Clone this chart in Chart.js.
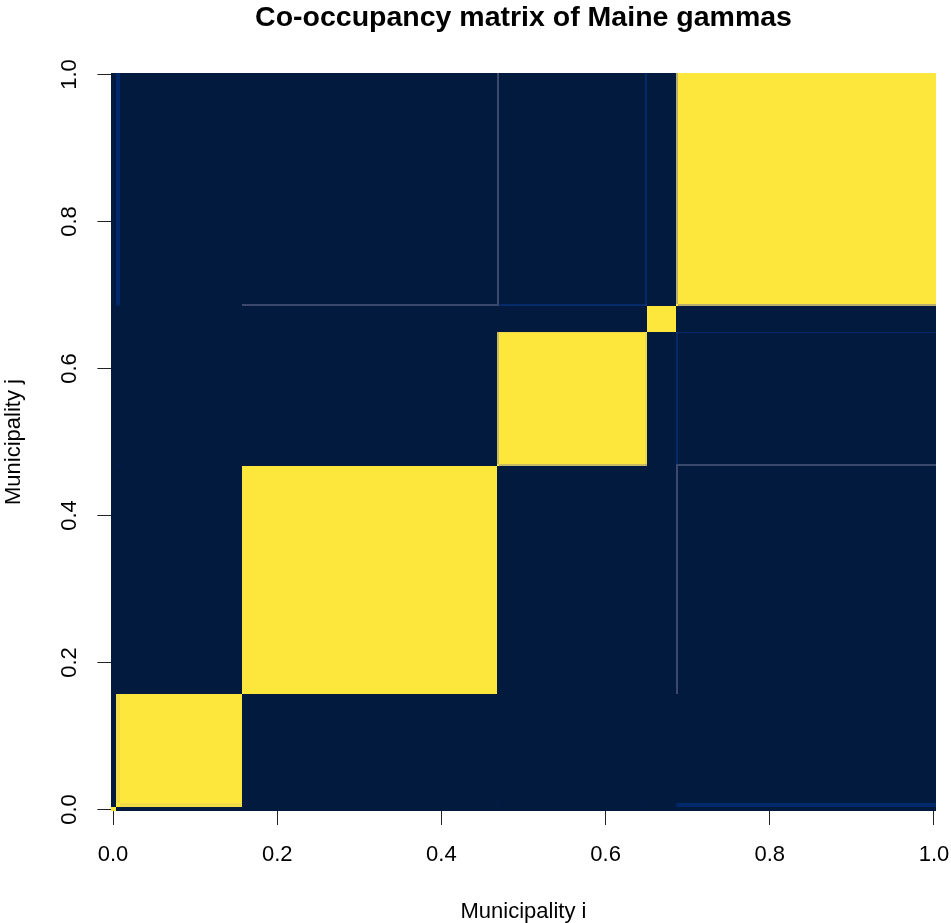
<!DOCTYPE html>
<html>
<head>
<meta charset="utf-8">
<script src="https://cdn.jsdelivr.net/npm/chart.js@4/dist/chart.umd.min.js"></script>
<style>
  html, body { margin: 0; padding: 0; background: #ffffff; }
  canvas { display: block; }
</style>
</head>
<body>
<canvas id="coocc" width="951" height="923"></canvas>
<script>
// Ordered municipality axis (0..1): boundaries of the posterior clusters
// cluster 0: single municipality, 1..5: the five main groups
const clusterBounds = [0, 0.003, 0.157, 0.4672, 0.6503, 0.6855, 1.0];

// Municipalities that spend part of the draws in another cluster
const splitFrom  = [0.003, 0.4672, 0.6480, 0.6855, 0.6855];
const splitTo    = [0.009, 0.4697, 0.6503, 0.6878, 0.6878];
const splitOther = [5, 5, 5, 2, 3];
const splitShare = [0.05, 0.20, 0.06, 0.20, 0.06];

// Axis ticks
const tickValues = [0, 0.2, 0.4, 0.6, 0.8, 1.0];
const tickLabels = ['0.0', '0.2', '0.4', '0.6', '0.8', '1.0'];

// Colour ramp (dark navy -> yellow)
const rampStops  = [0, 0.05, 0.2, 0.5, 0.75, 1];
const rampColors = ['#011a3e', '#00286a', '#3b4a6c', '#7c7b78', '#bcaf6f', '#fde73c'];

function hexRgb(h) {
  return [parseInt(h.slice(1, 3), 16), parseInt(h.slice(3, 5), 16), parseInt(h.slice(5, 7), 16)];
}
function rampColor(v) {
  for (let k = 0; k < rampStops.length - 1; k++) {
    if (v <= rampStops[k + 1]) {
      const t = (v - rampStops[k]) / (rampStops[k + 1] - rampStops[k]);
      const a = hexRgb(rampColors[k]), b = hexRgb(rampColors[k + 1]);
      const c = a.map((x, i) => Math.round(x + (b[i] - x) * t));
      return 'rgb(' + c.join(',') + ')';
    }
  }
  return rampColors[rampColors.length - 1];
}

// Cut the axis into runs of municipalities with identical membership
const nClusters = clusterBounds.length - 1;
function clusterOf(v) {
  for (let k = 0; k < nClusters; k++) {
    if (v >= clusterBounds[k] && v < clusterBounds[k + 1]) return k;
  }
  return nClusters - 1;
}
const cuts = [...new Set([...clusterBounds, ...splitFrom, ...splitTo])].sort((a, b) => a - b);
const segments = [];
for (let i = 0; i < cuts.length - 1; i++) {
  const a = cuts[i], b = cuts[i + 1], mid = (a + b) / 2;
  const p = new Array(nClusters).fill(0);
  let rest = 1;
  splitFrom.forEach((f, s) => {
    if (mid > f && mid < splitTo[s]) {
      p[splitOther[s]] += splitShare[s];
      rest -= splitShare[s];
    }
  });
  p[clusterOf(mid)] += rest;
  segments.push({ a, b, p });
}

// Co-occupancy cells: probability that municipality i and j share a cluster
const cells = [];
segments.forEach((si, i) => {
  segments.forEach((sj, j) => {
    const v = i === j ? 1 : si.p.reduce((acc, pk, k) => acc + pk * sj.p[k], 0);
    cells.push({
      x: (si.a + si.b) / 2, y: (sj.a + sj.b) / 2,
      x0: si.a, x1: si.b, y0: sj.a, y1: sj.b, v,
      first: [i === 0, j === 0], last: [i === segments.length - 1, j === segments.length - 1]
    });
  });
});

const FONT = '"Liberation Sans", Arial, Helvetica, sans-serif';
Chart.defaults.font.family = FONT;
Chart.defaults.color = '#000';

// Paints each cell as a rectangle positioned by the x/y scales
const matrixPlugin = {
  id: 'coOccupancyMatrix',
  beforeDatasetsDraw(chart) {
    const { ctx } = chart;
    const xs = chart.scales.x, ys = chart.scales.y;
    const data = chart.data.datasets[0].data;
    ctx.save();
    data.forEach(c => {
      const xa = Math.round(xs.getPixelForValue(c.first[0] ? xs.min : c.x0));
      const xb = Math.round(xs.getPixelForValue(c.last[0] ? xs.max : c.x1));
      const ya = Math.round(ys.getPixelForValue(c.first[1] ? ys.min : c.y0));
      const yb = Math.round(ys.getPixelForValue(c.last[1] ? ys.max : c.y1));
      ctx.fillStyle = rampColor(c.v);
      ctx.fillRect(Math.min(xa, xb), Math.min(ya, yb), Math.abs(xb - xa), Math.abs(yb - ya));
    });
    ctx.restore();
  },
  // y tick labels run parallel to the axis
  afterDraw(chart) {
    const { ctx, chartArea } = chart;
    const ys = chart.scales.y;
    ctx.save();
    ctx.font = '22px ' + FONT;
    ctx.fillStyle = '#000';
    ctx.textAlign = 'center';
    ctx.textBaseline = 'middle';
    ys.ticks.forEach((t, i) => {
      ctx.save();
      ctx.translate(chartArea.left - 41, ys.getPixelForValue(t.value));
      ctx.rotate(-Math.PI / 2);
      ctx.fillText(tickLabels[i], 0, 0);
      ctx.restore();
    });
    ctx.restore();
  }
};

new Chart(document.getElementById('coocc'), {
  type: 'scatter',
  data: {
    datasets: [{
      label: 'co-occupancy',
      data: cells,
      pointRadius: 0,
      pointHoverRadius: 0
    }]
  },
  options: {
    responsive: false,
    animation: false,
    devicePixelRatio: 1,
    events: [],
    layout: { padding: { left: 0, right: 15.4, top: 0, bottom: 0 } },
    plugins: {
      legend: { display: false },
      tooltip: { enabled: false },
      title: {
        display: true,
        text: 'Co-occupancy matrix of Maine gammas',
        fullSize: false,
        color: '#000',
        font: { size: 28.5, weight: 'bold' },
        padding: { top: 1, bottom: 37.8 }
      }
    },
    scales: {
      x: {
        type: 'linear',
        min: -0.002,
        max: 1.002,
        afterBuildTicks: s => { s.ticks = tickValues.map(v => ({ value: v })); },
        afterFit: s => { s.height = 112; s.paddingLeft = 0; s.paddingRight = 0; },
        border: { display: false },
        grid: { drawOnChartArea: false, drawTicks: true, tickLength: 14, color: '#222', lineWidth: 1 },
        ticks: {
          autoSkip: false, maxRotation: 0, minRotation: 0, padding: 17,
          font: { size: 22 }, color: '#000',
          callback: (v, i) => tickLabels[i]
        },
        title: { display: true, text: 'Municipality i', color: '#000', font: { size: 22 }, padding: { top: 0, bottom: -2 } }
      },
      y: {
        type: 'linear',
        min: -0.002,
        max: 1.002,
        afterBuildTicks: s => { s.ticks = tickValues.map(v => ({ value: v })); },
        afterFit: s => { s.width = 111.4; s.paddingTop = 0; s.paddingBottom = 0; },
        border: { display: false },
        grid: { drawOnChartArea: false, drawTicks: true, tickLength: 14, color: '#222', lineWidth: 1 },
        ticks: { display: false },
        title: { display: true, text: 'Municipality j', color: '#000', font: { size: 22 }, padding: { top: 1, bottom: 0 } }
      }
    }
  },
  plugins: [matrixPlugin]
});
</script>
</body>
</html>
